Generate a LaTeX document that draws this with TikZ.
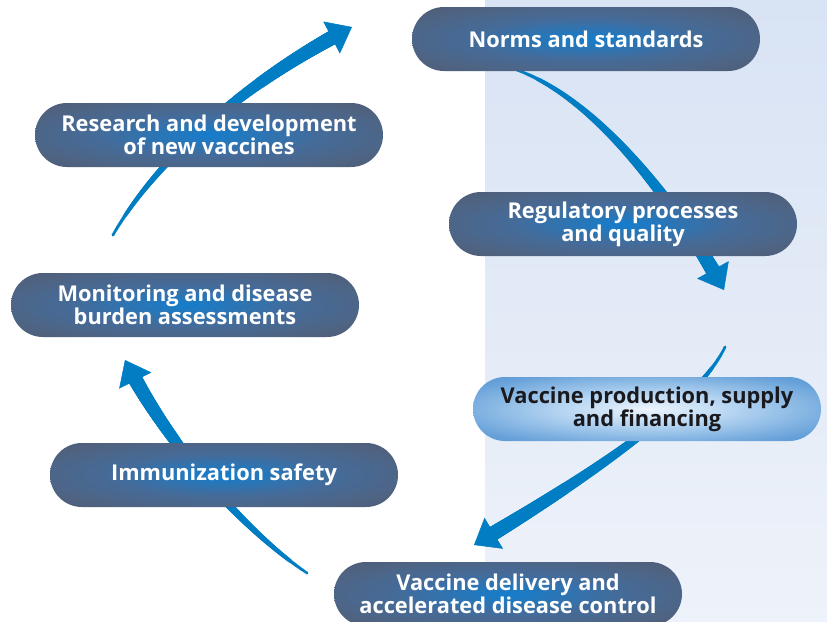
\documentclass[tikz,border=0pt]{standalone}
\usepackage{fontspec}
\setmainfont{Open Sans}
\usetikzlibrary{arrows.meta,decorations.markings}
\definecolor{arrowblue}{RGB}{0,125,195}
\definecolor{bgtop}{RGB}{216,227,244}
\definecolor{bgbot}{RGB}{238,242,250}
\definecolor{darktext}{RGB}{25,25,30}
\pgfdeclareradialshading{pilldark}{\pgfpoint{0bp}{0bp}}{rgb(0bp)=(0.08,0.49,0.80);rgb(5bp)=(0.14,0.47,0.74);rgb(16bp)=(0.27,0.42,0.60);rgb(28bp)=(0.31,0.39,0.51);rgb(40bp)=(0.29,0.34,0.43);rgb(50bp)=(0.23,0.25,0.31);rgb(72bp)=(0.20,0.22,0.27)}
\pgfdeclareradialshading{pilllight}{\pgfpoint{0bp}{0bp}}{rgb(0bp)=(0.93,0.96,0.99);rgb(12bp)=(0.72,0.84,0.95);rgb(30bp)=(0.40,0.63,0.85);rgb(50bp)=(0.22,0.53,0.80);rgb(72bp)=(0.18,0.48,0.76)}
\tikzset{
  pill/.style={rounded corners=32pt, minimum width=348pt, minimum height=64pt,
    inner sep=0pt, align=center, font=\bfseries\fontsize{21.8}{23}\selectfont,
    text=white, shade, shading=pilldark},
  pilllt/.style={pill, shading=pilllight, text=darktext},
  taper/.style={draw=arrowblue, line width=0.5pt,
    -{Triangle[width=36pt,length=23pt]},
    postaction={decorate, decoration={markings,
      mark=between positions 0 and 0.93 step 1pt with {%
        \pgfmathsetmacro\tprad{1.5+6.3*\pgfkeysvalueof{/pgf/decoration/mark info/sequence number}/\pgfdecoratedpathlength}%
        \fill[arrowblue] (0,0) circle[radius=\tprad pt];}}}}
}
\begin{document}
\begin{tikzpicture}[x=1pt,y=-1pt]
\useasboundingbox (0,0) rectangle (827,621);
\clip (0,0) rectangle (827,621);
\fill[white] (0,0) rectangle (827,621);
\shade[top color=bgtop, bottom color=bgbot] (485,0) rectangle (827,621);

% arrows
\coordinate (t1) at (113,235); \coordinate (h1) at (352,27);
\coordinate (t2) at (517,70);  \coordinate (h2) at (724,290);
\coordinate (t3) at (725,347); \coordinate (h3) at (474,545);
\coordinate (t4) at (307,573); \coordinate (h4) at (125,360);
\draw[taper] (t1) .. controls (150,170) and (230,90) .. (h1);
\draw[taper] (t2) .. controls (600,100) and (680,210) .. (h2);
\draw[taper] (t3) .. controls (700,400) and (600,470) .. (h3);
\draw[taper] (t4) .. controls (250,535) and (170,450) .. (h4);

% nodes
\node[pill] (norms) at (586,39) {Norms and standards};
\node[pill] (rd) at (209,135) {Research and development\\of new vaccines};
\node[pill] (reg) at (623,224) {Regulatory processes\\and quality};
\node[pill] (mon) at (185,305) {Monitoring and disease\\burden assessments};
\node[pilllt] (prod) at (647,409) {Vaccine production, supply\\and financing};
\node[pill] (safe) at (224,475) {Immunization safety};
\node[pill] (deliv) at (508,594) {Vaccine delivery and\\accelerated disease control};
\end{tikzpicture}
\end{document}
